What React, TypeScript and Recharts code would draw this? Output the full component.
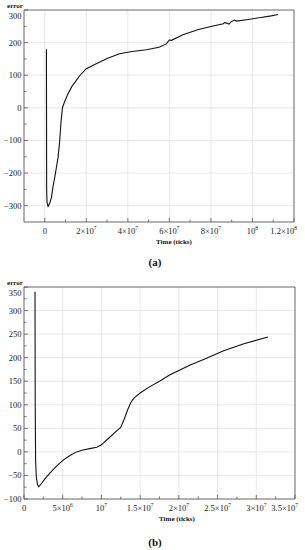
import React from 'react';
import { LineChart, Line, XAxis, YAxis, ReferenceLine } from 'recharts';

// ---------- Panel (a) ----------
const A_TIME = [
  8e5, 9e5, 1.1e6, 1.6e6, 2.5e6, 3.2e6, 4e6, 4.8e6, 5.6e6, 6.4e6, 7.2e6, 7.8e6, 8.5e6, 9.5e6,
  1.12e7, 1.3e7, 1.52e7, 1.7e7, 2.0e7, 2.5e7, 3.0e7, 3.6e7, 4.2e7, 4.9e7, 5.5e7, 5.85e7, 6.0e7,
  6.1e7, 6.65e7, 7.4e7, 8.1e7, 8.6e7, 8.67e7, 8.87e7, 8.99e7, 9.15e7, 9.23e7, 9.8e7, 1.04e8,
  1.09e8, 1.123e8,
];
const A_ERROR = [
  180, -250, -290, -302, -290, -275, -240, -213, -183, -152, -100, -45, 0, 18,
  43, 65, 84, 100, 120, 136, 151, 166, 173, 178, 186, 196, 208,
  207, 224, 240, 251, 258, 262, 257, 265, 269, 266, 271, 277,
  282, 286,
];
const A_X_DOMAIN = [-1e7, 1.2e8];
const A_Y_DOMAIN = [-350, 300];
const A_X_MAJOR = [0, 2e7, 4e7, 6e7, 8e7, 1e8, 1.2e8];
const A_X_LABELS = ['0', '2×10^7', '4×10^7', '6×10^7', '8×10^7', '10^8', '1.2×10^8'];
const A_X_MINOR = [1e7, 3e7, 5e7, 7e7, 9e7, 1.1e8];
const A_Y_MAJOR = [-300, -200, -100, 0, 100, 200, 300];
const A_Y_LABELS = ['−300', '−200', '−100', '0', '100', '200', '300'];
const A_Y_MINOR = [-250, -150, -50, 50, 150, 250];

// ---------- Panel (b) ----------
const B_TIME = [
  1.42e6, 1.45e6, 1.5e6, 1.6e6, 1.75e6, 1.9e6, 2.3e6, 2.8e6, 3.4e6, 4.2e6, 5.1e6, 6.0e6, 6.8e6,
  7.6e6, 8.5e6, 9.4e6, 1.0e7, 1.1e7, 1.2e7, 1.25e7, 1.3e7, 1.34e7, 1.38e7, 1.42e7, 1.5e7,
  1.62e7, 1.75e7, 1.88e7, 2.0e7, 2.14e7, 2.35e7, 2.57e7, 2.83e7, 3.15e7,
];
const B_ERROR = [
  340, 100, -20, -55, -70, -74, -66, -55, -44, -30, -17, -7, 0,
  4, 7, 10, 15, 30, 45, 52, 72, 90, 105, 114, 125,
  138, 150, 163, 173, 184, 198, 214, 229, 244,
];
const B_X_DOMAIN = [0, 3.5e7];
const B_Y_DOMAIN = [-100, 350];
const B_X_MAJOR = [0, 5e6, 1e7, 1.5e7, 2e7, 2.5e7, 3e7, 3.5e7];
const B_X_LABELS = ['0', '5×10^6', '10^7', '1.5×10^7', '2×10^7', '2.5×10^7', '3×10^7', '3.5×10^7'];
const B_X_MINOR = [2.5e6, 7.5e6, 1.25e7, 1.75e7, 2.25e7, 2.75e7, 3.25e7];
const B_Y_MAJOR = [-100, -50, 0, 50, 100, 150, 200, 250, 300, 350];
const B_Y_LABELS = ['−100', '−50', '0', '50', '100', '150', '200', '250', '300', '350'];
const B_Y_MINOR = [-75, -25, 25, 75, 125, 175, 225, 275, 325];

const FONT = 'Liberation Serif, Times New Roman, serif';
const AXIS = '#555';
const GRID = '#e3e3e3';

function renderLabel(s: string) {
  const idx = s.indexOf('^');
  if (idx < 0) return <tspan>{s}</tspan>;
  return (
    <>
      <tspan>{s.slice(0, idx)}</tspan>
      <tspan dy={-4} fontSize={5.5}>{s.slice(idx + 1)}</tspan>
    </>
  );
}

type PanelProps = {
  time: number[]; err: number[];
  xDomain: number[]; yDomain: number[];
  xMajor: number[]; xLabels: string[]; xMinor: number[];
  yMajor: number[]; yLabels: string[]; yMinor: number[];
  right: number;
};

function Panel(p: PanelProps) {
  const data = p.time.map((t, i) => ({ t, e: p.err[i] }));
  const xTicks = [...p.xMajor, ...p.xMinor].sort((a, b) => a - b);
  const yTicks = [...p.yMajor, ...p.yMinor].sort((a, b) => a - b);
  const gridX = p.xMajor.filter((v) => v > p.xDomain[0] && v < p.xDomain[1]);
  const gridY = p.yMajor.filter((v) => v > p.yDomain[0] && v < p.yDomain[1]);

  const xTick = (props: any) => {
    const { x, y, payload } = props;
    const i = p.xMajor.indexOf(payload.value);
    const major = i >= 0;
    const atEnd = payload.value === p.xDomain[1];
    return (
      <g>
        <line x1={x} x2={x} y1={y} y2={y - (major ? 4 : 2.5)} stroke={AXIS} strokeWidth={0.8} />
        {major && (
          <text x={atEnd ? x + 3 : x} y={y + 12} textAnchor={atEnd ? 'end' : 'middle'}
            fontFamily={FONT} fontSize={8.5} fill="#222">
            {renderLabel(p.xLabels[i])}
          </text>
        )}
      </g>
    );
  };

  const yTick = (props: any) => {
    const { x, y, payload } = props;
    const i = p.yMajor.indexOf(payload.value);
    const major = i >= 0;
    const atTop = payload.value === p.yDomain[1];
    return (
      <g>
        <line x1={x} x2={x + (major ? 4 : 2.5)} y1={y} y2={y} stroke={AXIS} strokeWidth={0.8} />
        {major && (
          <text x={x - 2.5} y={y + 3 + (atTop ? 6 : 0)} textAnchor="end"
            fontFamily={FONT} fontSize={8.5} fill="#222">
            {p.yLabels[i]}
          </text>
        )}
      </g>
    );
  };

  return (
    <LineChart width={305} height={255} data={data}
      margin={{ top: 10, right: p.right, bottom: 0, left: 0 }}>
      {gridX.map((v) => (
        <ReferenceLine key={'gx' + v} x={v} stroke={GRID} strokeWidth={0.8} />
      ))}
      {gridY.map((v) => (
        <ReferenceLine key={'gy' + v} y={v} stroke={GRID} strokeWidth={0.8} />
      ))}
      <ReferenceLine x={p.xDomain[1]} stroke={AXIS} strokeWidth={0.9} />
      <ReferenceLine y={p.yDomain[1]} stroke={AXIS} strokeWidth={0.9} />
      <XAxis type="number" dataKey="t" domain={p.xDomain} ticks={xTicks} interval={0}
        allowDataOverflow tickSize={0} tickMargin={0} tickLine={false} tick={xTick}
        height={33} stroke={AXIS} strokeWidth={0.9} />
      <YAxis type="number" domain={p.yDomain} ticks={yTicks} interval={0}
        allowDataOverflow tickSize={0} tickMargin={0} tickLine={false} tick={yTick}
        width={24} stroke={AXIS} strokeWidth={0.9} />
      <Line type="linear" dataKey="e" dot={false} stroke="#111" strokeWidth={1.1}
        isAnimationActive={false} />
    </LineChart>
  );
}

const textStyle: React.CSSProperties = {
  position: 'absolute',
  fontFamily: FONT,
  fontWeight: 'bold',
  color: '#111',
  whiteSpace: 'nowrap',
  transform: 'translate(-50%, -50%)',
  lineHeight: 1,
};

export default function App() {
  return (
    <div style={{ position: 'absolute', left: 0, top: 0, width: 305, height: 550, background: '#fff' }}>
      <div style={{ position: 'absolute', left: 0, top: 0 }}>
        <Panel time={A_TIME} err={A_ERROR} xDomain={A_X_DOMAIN} yDomain={A_Y_DOMAIN}
          xMajor={A_X_MAJOR} xLabels={A_X_LABELS} xMinor={A_X_MINOR}
          yMajor={A_Y_MAJOR} yLabels={A_Y_LABELS} yMinor={A_Y_MINOR} right={11} />
      </div>
      <div style={{ position: 'absolute', left: 0, top: 277 }}>
        <Panel time={B_TIME} err={B_ERROR} xDomain={B_X_DOMAIN} yDomain={B_Y_DOMAIN}
          xMajor={B_X_MAJOR} xLabels={B_X_LABELS} xMinor={B_X_MINOR}
          yMajor={B_Y_MAJOR} yLabels={B_Y_LABELS} yMinor={B_Y_MINOR} right={10} />
      </div>
      <div style={{ ...textStyle, left: 15, top: 5.5, fontSize: 7 }}>error</div>
      <div style={{ ...textStyle, left: 174, top: 242, fontSize: 7 }}>Time (ticks)</div>
      <div style={{ ...textStyle, left: 155, top: 262, fontSize: 11 }}>(a)</div>
      <div style={{ ...textStyle, left: 15, top: 283, fontSize: 7 }}>error</div>
      <div style={{ ...textStyle, left: 177, top: 519, fontSize: 7 }}>Time (ticks)</div>
      <div style={{ ...textStyle, left: 155, top: 542, fontSize: 11 }}>(b)</div>
    </div>
  );
}
